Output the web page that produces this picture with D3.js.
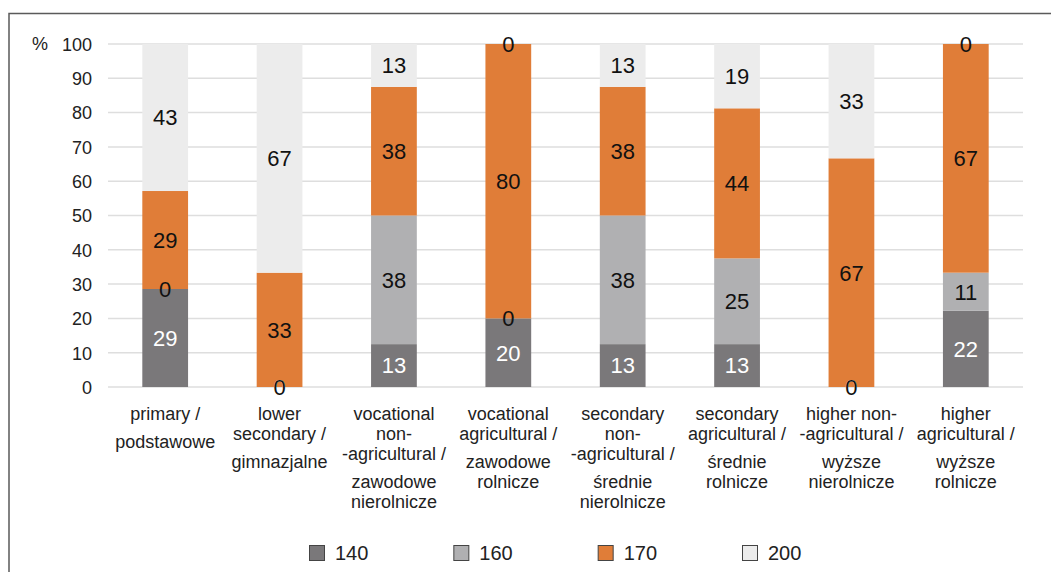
<!DOCTYPE html>
<html>
<head>
<meta charset="utf-8">
<script src="https://cdn.jsdelivr.net/npm/d3@7"></script>
<style>
  html, body { margin: 0; padding: 0; background: #fff; }
  svg { display: block; }
  text { font-family: "Liberation Sans", Arial, Helvetica, sans-serif; }
</style>
</head>
<body>
<svg id="chart" width="1051" height="572"></svg>
<script>
// ---- data ----
const categoriesEn = [
  ["primary /"],
  ["lower", "secondary /"],
  ["vocational", "non-", "-agricultural /"],
  ["vocational", "agricultural /"],
  ["secondary", "non-", "-agricultural /"],
  ["secondary", "agricultural /"],
  ["higher non-", "-agricultural /"],
  ["higher", "agricultural /"]
];
const categoriesPl = [
  ["podstawowe"],
  ["gimnazjalne"],
  ["zawodowe", "nierolnicze"],
  ["zawodowe", "rolnicze"],
  ["średnie", "nierolnicze"],
  ["średnie", "rolnicze"],
  ["wyższe", "nierolnicze"],
  ["wyższe", "rolnicze"]
];
const seriesNames = ["140", "160", "170", "200"];
const values140 = [28.57, 0, 12.5, 20, 12.5, 12.5, 0, 22.22];
const values160 = [0, 0, 37.5, 0, 37.5, 25, 0, 11.11];
const values170 = [28.57, 33.33, 37.5, 80, 37.5, 43.75, 66.67, 66.67];
const values200 = [42.86, 66.67, 12.5, 0, 12.5, 18.75, 33.33, 0];
const yTicks = [0, 10, 20, 30, 40, 50, 60, 70, 80, 90, 100];

const seriesValues = [values140, values160, values170, values200];
const colors = ["#7a787a", "#b0b0b2", "#e07d38", "#ececec"];
const labelColors = ["#ffffff", "#111111", "#111111", "#111111"];

// ---- build ----
const svg = d3.select("#chart");

// frame
svg.append("rect")
  .attr("x", 9).attr("y", 13.5)
  .attr("width", 1100).attr("height", 700)
  .attr("fill", "none").attr("stroke", "#5a5a5a").attr("stroke-width", 1.5);

const x = d3.scaleBand()
  .domain(d3.range(categoriesEn.length))
  .range([108, 1023])
  .paddingInner(0.6)
  .paddingOuter(0.3);

const y = d3.scaleLinear().domain([0, 100]).range([387, 44]);

// gridlines
svg.append("g").selectAll("line").data(yTicks).join("line")
  .attr("x1", 108).attr("x2", 1023)
  .attr("y1", d => y(d)).attr("y2", d => y(d))
  .attr("stroke", "#dedede").attr("stroke-width", 1.5);

// y axis labels
const yAxis = d3.axisLeft(y).tickValues(yTicks).tickSize(0).tickPadding(0);
const yg = svg.append("g").attr("transform", "translate(92,0)").call(yAxis);
yg.select(".domain").remove();
yg.selectAll("text")
  .attr("font-size", 18).attr("fill", "#222").attr("dy", "0.35em");

svg.append("text")
  .attr("x", 40).attr("y", y(100)).attr("dy", "0.35em")
  .attr("text-anchor", "middle")
  .attr("font-size", 18).attr("fill", "#222")
  .text("%");

// stack
const rows = categoriesEn.map((c, i) => {
  const r = { idx: i };
  seriesNames.forEach((s, k) => r[s] = seriesValues[k][i]);
  return r;
});
const stacked = d3.stack().keys(seriesNames)(rows);

const layers = svg.append("g").selectAll("g").data(stacked).join("g")
  .attr("fill", (d, k) => colors[k]);
layers.selectAll("rect").data(d => d).join("rect")
  .attr("x", d => x(d.data.idx))
  .attr("width", x.bandwidth())
  .attr("y", d => y(d[1]))
  .attr("height", d => y(d[0]) - y(d[1]));

// value labels
const labelLayers = svg.append("g").selectAll("g").data(stacked).join("g")
  .attr("fill", (d, k) => labelColors[k]);
labelLayers.selectAll("text").data(d => d).join("text")
  .attr("x", d => x(d.data.idx) + x.bandwidth() / 2)
  .attr("y", d => y((d[0] + d[1]) / 2))
  .attr("dy", "0.36em")
  .attr("text-anchor", "middle")
  .attr("font-size", 22)
  .text(d => Math.round(d[1] - d[0]));

// category labels
const catG = svg.append("g").selectAll("g").data(categoriesEn).join("g")
  .attr("transform", (d, i) => `translate(${x(i) + x.bandwidth() / 2},0)`);
catG.each(function(en, i) {
  const g = d3.select(this);
  const y0 = 414;
  en.forEach((line, j) => {
    g.append("text").attr("y", y0 + 20 * j).attr("dy", "0.35em")
      .attr("text-anchor", "middle").attr("font-size", 18).attr("fill", "#222")
      .text(line);
  });
  const yp = y0 + 20 * (en.length - 1) + 28;
  categoriesPl[i].forEach((line, j) => {
    g.append("text").attr("y", yp + 20 * j).attr("dy", "0.35em")
      .attr("text-anchor", "middle").attr("font-size", 18).attr("fill", "#222")
      .text(line);
  });
});

// legend
const legX = d3.scalePoint().domain(seriesNames).range([309, 742]);
const leg = svg.append("g").selectAll("g").data(seriesNames).join("g")
  .attr("transform", d => `translate(${legX(d)},553)`);
leg.append("rect")
  .attr("x", 0.5).attr("y", -7.5).attr("width", 15).attr("height", 15)
  .attr("fill", (d, k) => colors[k]).attr("stroke", "#444").attr("stroke-width", 1);
leg.append("text")
  .attr("x", 26).attr("dy", "0.36em")
  .attr("font-size", 20).attr("fill", "#222")
  .text(d => d);
</script>
</body>
</html>
